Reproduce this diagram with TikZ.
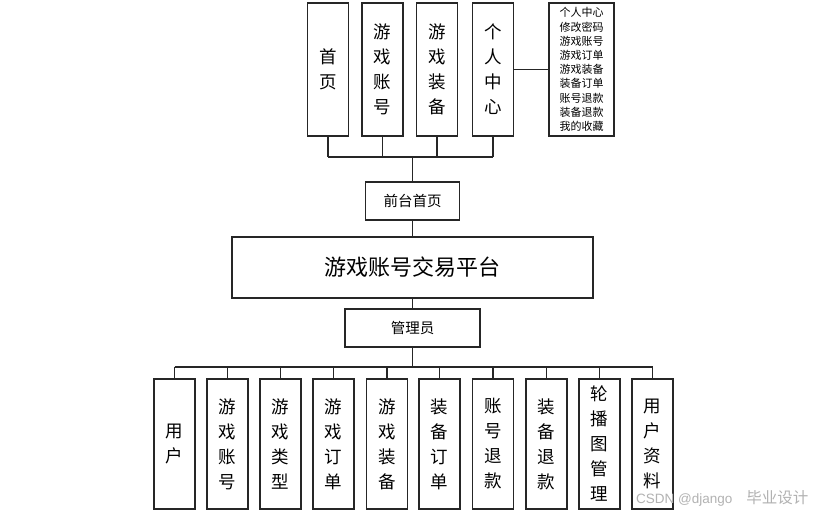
\documentclass[tikz,border=0pt]{standalone}
\usepackage{fontspec}
\newfontfamily\cjk{Noto Sans CJK SC}
\newfontfamily\wmfont{Liberation Sans}
\begin{document}
\begin{tikzpicture}[x=1bp,y=-1bp,
  box/.style={draw=black!85, line width=1.1bp, inner sep=0pt, align=center},
  vbox/.style={box, minimum width=41bp, font=\cjk\fontsize{17.5bp}{25bp}\selectfont},
  topv/.style={vbox, minimum height=133bp},
  botv/.style={vbox, minimum height=130bp},
  conn/.style={draw=black!85, line width=1.1bp}]
\useasboundingbox[fill=white] (0,0) rectangle (822,515);
% top row
\node[topv] (sy) at (328,69.5) {首\\页};
\node[topv] (yxzh) at (382.5,69.5) {游\\戏\\账\\号};
\node[topv] (yxzb) at (437,69.5) {游\\戏\\装\\备};
\node[topv] (grzx) at (493,69.5) {个\\人\\中\\心};
\node[box, minimum width=65bp, minimum height=133bp, font=\cjk\fontsize{11bp}{14.2bp}\selectfont] (list) at (581.5,69.5)
  {个人中心\\修改密码\\游戏账号\\游戏订单\\游戏装备\\装备订单\\账号退款\\装备退款\\我的收藏};
% middle
\node[box, minimum width=94bp, minimum height=38bp, font=\cjk\fontsize{14.5bp}{17bp}\selectfont] (qt) at (412.5,201) {前台首页};
\node[box, minimum width=361bp, minimum height=61bp, font=\cjk\fontsize{22bp}{26bp}\selectfont] (main) at (412.5,267.5) {游戏账号交易平台};
\node[box, minimum width=135bp, minimum height=38bp, font=\cjk\fontsize{14.5bp}{17bp}\selectfont] (gly) at (412.5,328) {管理员};
% bottom row
\node[botv] (b1) at (174.5,444) {用\\户};
\node[botv] (b2) at (227.5,444) {游\\戏\\账\\号};
\node[botv] (b3) at (280.5,444) {游\\戏\\类\\型};
\node[botv] (b4) at (333.5,444) {游\\戏\\订\\单};
\node[botv] (b5) at (387,444) {游\\戏\\装\\备};
\node[botv] (b6) at (439.5,444) {装\\备\\订\\单};
\node[botv] (b7) at (493,444) {账\\号\\退\\款};
\node[botv] (b8) at (546.5,444) {装\\备\\退\\款};
\node[botv] (b9) at (599.5,444) {轮\\播\\图\\管\\理};
\node[botv] (b10) at (652.5,444) {用\\户\\资\\料};
% connectors top
\coordinate (tbus) at (0,157);
\foreach \n in {sy,yxzh,yxzb,grzx} \draw[conn] (\n.south) -- (\n.south |- tbus);
\draw[conn] (sy.south |- tbus) -- (grzx.south |- tbus);
\draw[conn] (qt.north |- tbus) -- (qt.north);
\draw[conn] (grzx.east) -- (list.west);
\draw[conn] (qt.south) -- (main.north);
\draw[conn] (main.south) -- (gly.north);
% connectors bottom
\coordinate (bbus) at (0,367);
\draw[conn] (gly.south) -- (gly.south |- bbus);
\draw[conn] (b1.north |- bbus) -- (b10.north |- bbus);
\foreach \n in {b1,b2,b3,b4,b5,b6,b7,b8,b9,b10} \draw[conn] (\n.north |- bbus) -- (\n.north);
% watermark
\node[anchor=west, inner sep=0pt, text=black!30, font=\wmfont\fontsize{13.5bp}{16bp}\selectfont] (wm) at (636,498) {CSDN @django\hspace{14bp}{\cjk\fontsize{15.5bp}{16bp}\selectfont 毕业设计}};
\end{tikzpicture}
\end{document}
